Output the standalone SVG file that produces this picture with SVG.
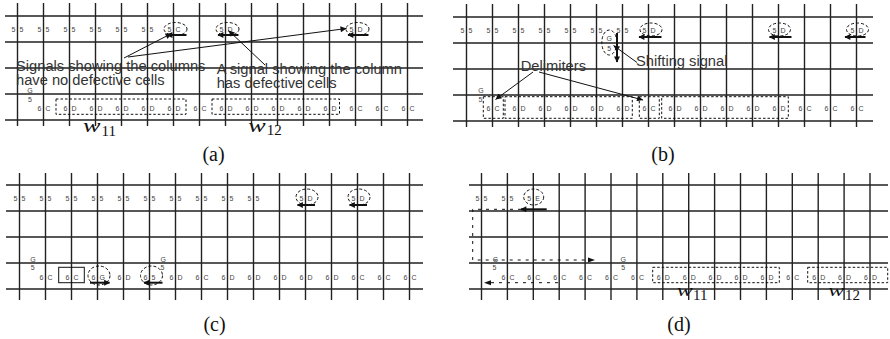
<svg xmlns="http://www.w3.org/2000/svg" width="890" height="339" viewBox="0 0 890 339">
<style>
.grid{fill:none;stroke:#222;stroke-width:1.4}
.s{font-family:"Liberation Sans",Arial,sans-serif;font-size:7px;fill:#444}
.sm{font-family:"Liberation Sans",Arial,sans-serif;font-size:7px;fill:#444;text-anchor:middle}
.ann{font-family:"Liberation Sans",Arial,sans-serif;font-size:14.7px;fill:#333}
.cap{font-family:"Liberation Serif","Times New Roman",serif;font-size:20px;fill:#111;text-anchor:middle}
.w{font-family:"Liberation Serif","Times New Roman",serif;font-size:18px;font-style:italic;fill:#111}
.sub{font-family:"Liberation Serif","Times New Roman",serif;font-size:15px;font-style:normal;fill:#111}
.de{fill:none;stroke:#111;stroke-width:1;stroke-dasharray:3 2}
.db{fill:none;stroke:#111;stroke-width:1;stroke-dasharray:2.5 2}
.sig{fill:none;stroke:#111;stroke-width:2;marker-end:url(#sh)}
.thin{fill:none;stroke:#111;stroke-width:1;marker-end:url(#ah)}
.route{fill:none;stroke:#111;stroke-width:1;stroke-dasharray:3 5}
</style>
<defs>
<marker id="ah" viewBox="0 0 10 10" refX="10" refY="5" markerWidth="8" markerHeight="6" orient="auto" markerUnits="userSpaceOnUse"><path d="M0,0 L10,5 L0,10 z" fill="#111"/></marker>
<marker id="sh" viewBox="0 0 10 10" refX="9" refY="5" markerWidth="7" markerHeight="6" orient="auto" markerUnits="userSpaceOnUse"><path d="M0,0 L10,5 L0,10 z" fill="#111"/></marker>
</defs>

<!-- Panel (a) -->
<g id="panel-a">
<path class="grid" d="M5 16H423M5 42H423M5 68H423M5 94H423M5 120H423M17.5 3V126M43.5 3V126M69.5 3V126M95.5 3V126M121.5 3V126M147.5 3V126M173.5 3V126M199.5 3V126M225.5 3V126M251.5 3V126M277.5 3V126M303.5 3V126M329.5 3V126M355.5 3V126M381.5 3V126M407.5 3V126"/>
<g id="a-row1">
<text class="s" x="11.5 19.5" y="31.5">55</text>
<text class="s" x="37.5 45.5" y="31.5">55</text>
<text class="s" x="63.5 71.5" y="31.5">55</text>
<text class="s" x="89.5 97.5" y="31.5">55</text>
<text class="s" x="115.5 123.5" y="31.5">55</text>
<text class="s" x="141.5 149.5" y="31.5">55</text>
<g id="a-sig1"><ellipse class="de" cx="175.5" cy="29" rx="11.5" ry="6.5"/><text class="s" x="167.5 175.5" y="31.5">5C</text></g>
<g id="a-sig2"><ellipse class="de" cx="227.5" cy="29" rx="11.5" ry="6.5"/><text class="s" x="219.5 227.5" y="31.5">5D</text></g>
<g id="a-sig3"><ellipse class="de" cx="357.5" cy="29" rx="11.5" ry="6.5"/><text class="s" x="349.5 357.5" y="31.5">5D</text></g>
</g>
<g id="a-row4">
<text class="sm" x="30" y="92.5">G</text><text class="sm" x="30" y="101.5">5</text>
<text class="s" x="37.5 45.5" y="110.8">6C</text>
<rect class="db" x="56" y="99" width="130" height="15.3"/>
<text class="s" x="63.5 71.5" y="110.8">6D</text>
<text class="s" x="89.5 97.5" y="110.8">6D</text>
<text class="s" x="115.5 123.5" y="110.8">6D</text>
<text class="s" x="141.5 149.5" y="110.8">6D</text>
<text class="s" x="167.5 175.5" y="110.8">6D</text>
<text class="s" x="193.5 201.5" y="110.8">6C</text>
<rect class="db" x="212" y="99" width="127.5" height="15.3"/>
<text class="s" x="219.5 227.5" y="110.8">6D</text>
<text class="s" x="245.5 253.5" y="110.8">6D</text>
<text class="s" x="271.5 279.5" y="110.8">6D</text>
<text class="s" x="297.5 305.5" y="110.8">6D</text>
<text class="s" x="323.5 331.5" y="110.8">6D</text>
<text class="s" x="349.5 357.5" y="110.8">6C</text>
<text class="s" x="375.5 383.5" y="110.8">6C</text>
<text class="s" x="401.5 409.5" y="110.8">6C</text>
</g>
<g id="a-labels">
<text class="ann"><tspan x="16" y="70.7">Signals showing the columns</tspan><tspan x="16" y="84.7">have no defective cells</tspan></text>
<text class="ann"><tspan x="216.7" y="74">A signal showing the column</tspan><tspan x="216.7" y="88">has defective cells</tspan></text>
<text class="w" x="83" y="132" textLength="17.5" lengthAdjust="spacingAndGlyphs">w</text>
<text class="sub" x="101.5" y="135.5">11</text>
<text class="w" x="248.3" y="131.5" textLength="17.5" lengthAdjust="spacingAndGlyphs">w</text>
<text class="sub" x="266.7" y="135">12</text>
<text class="cap" x="213.5" y="160.5">(a)</text>
</g>
</g>

<!-- Panel (b) -->
<g id="panel-b">
<path class="grid" d="M453 17H873M453 43H873M453 69H873M453 95H873M453 121H873M466.5 4V127M492.5 4V127M518.5 4V127M544.5 4V127M570.5 4V127M596.5 4V127M622.5 4V127M648.5 4V127M674.5 4V127M700.5 4V127M726.5 4V127M752.5 4V127M778.5 4V127M804.5 4V127M830.5 4V127M856.5 4V127"/>
<g id="b-row1">
<text class="s" x="460.5 468.5" y="32.5">55</text>
<text class="s" x="486.5 494.5" y="32.5">55</text>
<text class="s" x="512.5 520.5" y="32.5">55</text>
<text class="s" x="538.5 546.5" y="32.5">55</text>
<text class="s" x="564.5 572.5" y="32.5">55</text>
<text class="s" x="590.5 598.5" y="32.5">55</text>
<text class="s" x="616.5 624.5" y="32.5">55</text>
<g id="b-sig1"><ellipse class="de" cx="651" cy="29.5" rx="11" ry="6.5"/><text class="s" x="642.5 650.5" y="32.5">5D</text></g>
<g id="b-sig2"><ellipse class="de" cx="779.5" cy="29.5" rx="11" ry="6.5"/><text class="s" x="772.5 780.5" y="32.5">5D</text></g>
<g id="b-sig3"><ellipse class="de" cx="857.5" cy="29.5" rx="11" ry="6.5"/><text class="s" x="850.5 858.5" y="32.5">5D</text></g>
<g id="b-shift"><ellipse class="de" cx="609.3" cy="42.5" rx="7.5" ry="12.5"/><text class="sm" x="609.3" y="41">G</text><text class="sm" x="609.3" y="51">5</text></g>
</g>
<g id="b-row4">
<text class="sm" x="481" y="93">G</text><text class="sm" x="480.5" y="101.5">5</text>
<rect class="db" x="483.3" y="96.7" width="20" height="21.6"/>
<text class="s" x="486.5 494.5" y="111.3">6C</text>
<rect class="db" x="505" y="96.7" width="127.3" height="21.6"/>
<text class="s" x="512.5 520.5" y="111.3">6D</text>
<text class="s" x="538.5 546.5" y="111.3">6D</text>
<text class="s" x="564.5 572.5" y="111.3">6D</text>
<text class="s" x="590.5 598.5" y="111.3">6D</text>
<text class="s" x="616.5 624.5" y="111.3">6D</text>
<rect class="db" x="639.3" y="96.7" width="20" height="21.6"/>
<text class="s" x="642.5 650.5" y="111.3">6C</text>
<rect class="db" x="661.7" y="96.7" width="126.6" height="21.6"/>
<text class="s" x="668.5 676.5" y="111.3">6D</text>
<text class="s" x="694.5 702.5" y="111.3">6D</text>
<text class="s" x="720.5 728.5" y="111.3">6D</text>
<text class="s" x="746.5 754.5" y="111.3">6D</text>
<text class="s" x="772.5 780.5" y="111.3">6D</text>
<text class="s" x="798.5 806.5" y="111.3">6C</text>
<text class="s" x="824.5 832.5" y="111.3">6C</text>
<text class="s" x="850.5 858.5" y="111.3">6C</text>
</g>
<g id="b-labels">
<text class="ann" x="520.7" y="70.7">Delimiters</text>
<text class="ann" x="636" y="66">Shifting signal</text>
<text class="cap" x="663" y="160.5">(b)</text>
</g>
</g>

<!-- Panel (c) -->
<g id="panel-c">
<path class="grid" d="M6 185H423M6 211H423M6 237H423M6 263H423M6 289H423M19.5 173V300M45.5 173V300M71.5 173V300M97.5 173V300M123.5 173V300M149.5 173V300M175.5 173V300M201.5 173V300M227.5 173V300M253.5 173V300M279.5 173V300M305.5 173V300M331.5 173V300M357.5 173V300M383.5 173V300M409.5 173V300"/>
<g id="c-row1">
<text class="s" x="13.5 21.5" y="200.8">55</text>
<text class="s" x="39.5 47.5" y="200.8">55</text>
<text class="s" x="65.5 73.5" y="200.8">55</text>
<text class="s" x="91.5 99.5" y="200.8">55</text>
<text class="s" x="117.5 125.5" y="200.8">55</text>
<text class="s" x="143.5 151.5" y="200.8">55</text>
<text class="s" x="169.5 177.5" y="200.8">55</text>
<text class="s" x="195.5 203.5" y="200.8">55</text>
<text class="s" x="221.5 229.5" y="200.8">55</text>
<text class="s" x="247.5 255.5" y="200.8">55</text>
<g id="c-sig1"><ellipse class="de" cx="307" cy="197" rx="11" ry="8"/><text class="s" x="299.5 307.5" y="200.8">5D</text></g>
<g id="c-sig2"><ellipse class="de" cx="359" cy="197" rx="11" ry="8"/><text class="s" x="351.5 359.5" y="200.8">5D</text></g>
</g>
<g id="c-row4">
<text class="sm" x="33" y="261.5">G</text><text class="sm" x="32.7" y="270">5</text>
<text class="s" x="39.5 47.5" y="280">6C</text>
<rect x="58.7" y="267.3" width="25.6" height="15.4" fill="none" stroke="#111" stroke-width="1"/>
<text class="s" x="65.5 73.5" y="280">6C</text>
<g id="c-sig3"><ellipse class="de" cx="99" cy="275.5" rx="11" ry="9.5"/><text class="s" x="91.5 99.5" y="280">6G</text></g>
<text class="s" x="117.5 125.5" y="280">6D</text>
<g id="c-sig4"><ellipse class="de" cx="151.5" cy="275.5" rx="11" ry="9.5"/><text class="s" x="143.5 151.5" y="280">65</text></g>
<text class="sm" x="163.3" y="261.5">G</text><text class="sm" x="162.5" y="270">5</text>
<text class="s" x="169.5 177.5" y="280">6D</text>
<text class="s" x="195.5 203.5" y="280">6C</text>
<text class="s" x="221.5 229.5" y="280">6D</text>
<text class="s" x="247.5 255.5" y="280">6D</text>
<text class="s" x="273.5 281.5" y="280">6D</text>
<text class="s" x="299.5 307.5" y="280">6D</text>
<text class="s" x="325.5 333.5" y="280">6D</text>
<text class="s" x="351.5 359.5" y="280">6C</text>
<text class="s" x="377.5 385.5" y="280">6C</text>
<text class="s" x="403.5 411.5" y="280">6C</text>
</g>
<text class="cap" x="214.5" y="330.5">(c)</text>
</g>

<!-- Panel (d) -->
<g id="panel-d">
<path class="grid" d="M469 185H888M469 211H888M469 237H888M469 263H888M469 289H888M481.5 173V300M507.4 173V300M533.3 173V300M559.2 173V300M585.1 173V300M611 173V300M636.9 173V300M662.8 173V300M688.7 173V300M714.6 173V300M740.5 173V300M766.4 173V300M792.3 173V300M818.2 173V300M844.1 173V300M870 173V300"/>
<g id="d-row1">
<text class="s" x="475.5 483.5" y="200.8">55</text>
<text class="s" x="501.4 509.4" y="200.8">55</text>
<g id="d-sig1"><ellipse class="de" cx="533.7" cy="197" rx="10" ry="8"/><text class="s" x="527.3 535.3" y="200.8">5E</text></g>
</g>
<g id="d-row4">
<text class="sm" x="495.5" y="261.5">G</text><text class="sm" x="494.5" y="270">5</text>
<text class="s" x="501.4 509.4" y="279.5">6C</text>
<text class="s" x="527.3 535.3" y="279.5">6C</text>
<text class="s" x="553.2 561.2" y="279.5">6C</text>
<text class="s" x="579.1 587.1" y="279.5">6C</text>
<text class="s" x="605 613" y="279.5">6C</text>
<text class="sm" x="623.3" y="261.5">G</text><text class="sm" x="623.3" y="270">5</text>
<text class="s" x="630.9 638.9" y="279.5">6C</text>
<rect class="db" x="652.7" y="267.3" width="126.6" height="15.4"/>
<text class="s" x="656.8 664.8" y="279.5">6D</text>
<text class="s" x="682.7 690.7" y="279.5">6D</text>
<text class="s" x="708.6 716.6" y="279.5">6D</text>
<text class="s" x="734.5 742.5" y="279.5">6D</text>
<text class="s" x="760.4 768.4" y="279.5">6D</text>
<text class="s" x="786.3 794.3" y="279.5">6C</text>
<rect class="db" x="807.7" y="267.3" width="80" height="15.4"/>
<text class="s" x="812.2 820.2" y="279.5">6D</text>
<text class="s" x="838.1 846.1" y="279.5">6D</text>
<text class="s" x="864 872" y="279.5">6D</text>
</g>
<g id="d-labels">
<text class="w" x="676.7" y="296" textLength="16" lengthAdjust="spacingAndGlyphs" style="font-size:16px">w</text>
<text class="sub" x="693" y="299.5">11</text>
<text class="w" x="828.3" y="296" textLength="16" lengthAdjust="spacingAndGlyphs" style="font-size:16px">w</text>
<text class="sub" x="845" y="299.5">12</text>
<text class="cap" x="679" y="330.5">(d)</text>
</g>
</g>

<!-- Connectors -->
<g id="connectors">
<path class="sig" d="M186.5 35H167"/>
<path class="sig" d="M238.5 35H218"/>
<path class="sig" d="M368.5 35H348"/>
<path class="thin" d="M124 58L171.5 33.5"/>
<path class="thin" d="M128 57L346.5 28.5"/>
<path class="thin" d="M265 65L228.5 30.5"/>
<path class="sig" d="M661.5 37H639"/>
<path class="sig" d="M791.5 37H769.5"/>
<path class="sig" d="M865.5 37H845"/>
<path class="sig" d="M617 33V62"/>
<path class="thin" d="M533 72L495.5 99.5"/>
<path class="thin" d="M539 72L643 100"/>
<path class="thin" d="M637 62.5L613.5 45.5"/>
<path class="sig" d="M315 205H297.5"/>
<path class="sig" d="M367 205H349.5"/>
<path class="sig" d="M90 282.7H109.5"/>
<path class="sig" d="M162.5 282.7H144"/>
<path class="sig" d="M546.7 209.3H521"/>
<path class="route" d="M521 209.3H472.7V260H588"/>
<path d="M588 257.5L595 260L588 262.5z" fill="#111"/>
<path class="route" d="M558 282.7H491"/>
<path d="M491 280.2L484 282.7L491 285.2z" fill="#111"/>
</g>
</svg>
